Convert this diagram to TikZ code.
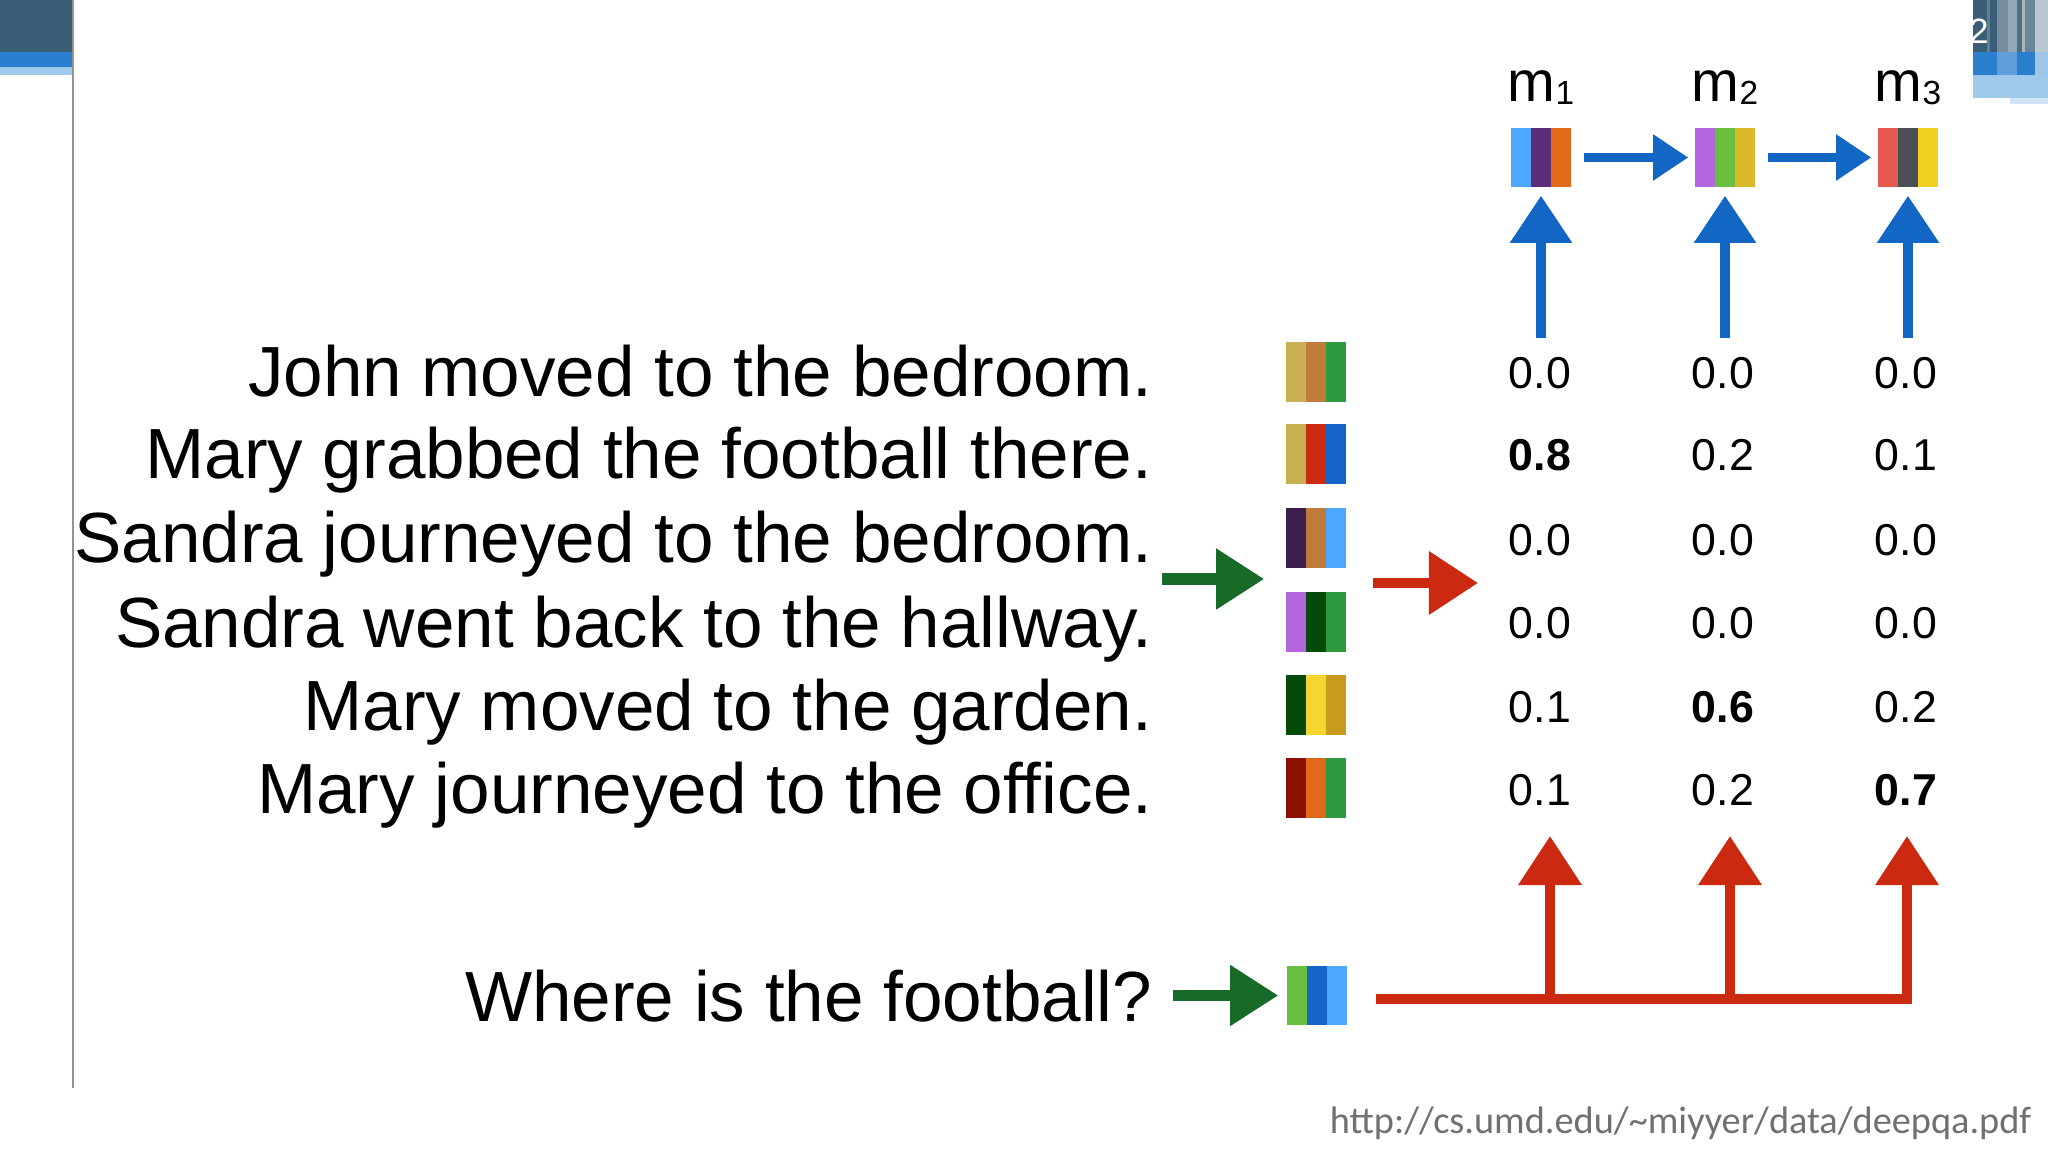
\documentclass[tikz,border=0pt]{standalone}
\usepackage{fontspec}
\setmainfont{Liberation Sans}
\newfontfamily\urlfont{Carlito}
\usetikzlibrary{arrows.meta,calc}
\definecolor{cblue}{RGB}{18,102,196}
\definecolor{cgreen}{RGB}{24,106,40}
\definecolor{cred}{RGB}{204,42,16}
\definecolor{skyb}{RGB}{77,166,255}
\definecolor{purp}{RGB}{92,45,122}
\definecolor{orng}{RGB}{224,106,26}
\definecolor{lav}{RGB}{179,102,224}
\definecolor{lgreen}{RGB}{106,191,64}
\definecolor{must}{RGB}{217,184,42}
\definecolor{coral}{RGB}{232,90,80}
\definecolor{dgray}{RGB}{74,79,85}
\definecolor{yell}{RGB}{240,208,32}
\definecolor{khaki}{RGB}{200,176,80}
\definecolor{brwn}{RGB}{192,122,58}
\definecolor{mgreen}{RGB}{46,154,64}
\definecolor{bred}{RGB}{204,42,16}
\definecolor{dblue}{RGB}{21,101,200}
\definecolor{dpurp}{RGB}{61,31,79}
\definecolor{dgreen}{RGB}{6,74,10}
\definecolor{byell}{RGB}{245,213,48}
\definecolor{dmust}{RGB}{200,154,30}
\definecolor{dred}{RGB}{138,16,0}
\definecolor{teal}{RGB}{59,94,119}
\definecolor{band}{RGB}{43,127,207}
\definecolor{lband}{RGB}{159,201,234}
\definecolor{urlgray}{RGB}{112,112,112}
\tikzset{
  bar/.style n args={3}{rectangle, minimum width=0.6cm, minimum height=0.59cm, inner sep=0pt,
    path picture={
      \fill[#1] (path picture bounding box.south west) rectangle ([xshift=-0.4cm]path picture bounding box.north east);
      \fill[#2] ([xshift=0.2cm]path picture bounding box.south west) rectangle ([xshift=-0.2cm]path picture bounding box.north east);
      \fill[#3] ([xshift=0.4cm]path picture bounding box.south west) rectangle (path picture bounding box.north east);
    }},
  sent/.style={anchor=base east, inner sep=0pt, font=\fontsize{20.2}{24}\selectfont},
  num/.style={anchor=base, inner sep=0pt, font=\fontsize{12.7}{15}\selectfont},
  mlab/.style={anchor=base, inner sep=0pt, font=\fontsize{16.3}{19}\selectfont},
  bluev/.style={draw=cblue, line width=2.8pt, -{Triangle[length=13.4pt,width=17pt]}},
  blueh/.style={draw=cblue, line width=2.8pt, -{Triangle[length=10pt,width=12.5pt]}},
  greenarr/.style={draw=cgreen, line width=3.3pt, -{Triangle[length=13.7pt,width=16.5pt]}},
  redarr/.style={draw=cred, line width=3pt, -{Triangle[length=14pt,width=17.4pt]}},
}
\begin{document}
\begin{tikzpicture}[x=0.01cm,y=-0.01cm]
\useasboundingbox (0,0) rectangle (2048,1152);
% slide decorations
\fill[teal] (0,0) rectangle (72,52);
\fill[band] (0,52) rectangle (72,67);
\fill[lband] (0,67) rectangle (72,75);
\fill[gray!85] (72,0) rectangle (74,1088);
\fill[teal] (1973,0) rectangle (2048,52);
\fill[teal!80!white] (1987,0) rectangle (1990,52);
\fill[teal!70!white] (1997,0) rectangle (2008,52);
\fill[teal!55!white] (2008,0) rectangle (2017,52);
\fill[teal!90!white] (2017,0) rectangle (2022,52);
\fill[teal!45!white] (2022,0) rectangle (2025,52);
\fill[teal!75!white] (2025,0) rectangle (2035,52);
\fill[teal!35!white] (2035,0) rectangle (2048,52);
\fill[band] (1973,52) rectangle (2048,75);
\fill[band!75!white] (1997,52) rectangle (2017,75);
\fill[band!45!white] (2035,52) rectangle (2048,75);
\fill[lband] (1973,75) rectangle (2048,98);
\fill[lband!50!white] (2010,98) rectangle (2048,104);
\node[text=white, inner sep=0pt, font=\fontsize{10}{12}\selectfont] (pg) at (1979,31) {2};
% memory bars
\node[bar={skyb}{purp}{orng}] (m1) at (1541,157.5) {};
\node[bar={lav}{lgreen}{must}] (m2) at (1725,157.5) {};
\node[bar={coral}{dgray}{yell}] (m3) at (1908,157.5) {};
\node[mlab] (l1) at (1541,102) {m\raisebox{-0.85pt}{\fontsize{9.5}{10}\selectfont 1}};
\node[mlab] (l2) at (1725,102) {m\raisebox{-0.85pt}{\fontsize{9.5}{10}\selectfont 2}};
\node[mlab] (l3) at (1908,102) {m\raisebox{-0.85pt}{\fontsize{9.5}{10}\selectfont 3}};
\draw[blueh] ([xshift=0.12cm]m1.east) -- ([xshift=-0.06cm]m2.west);
\draw[blueh] ([xshift=0.12cm]m2.east) -- ([xshift=-0.06cm]m3.west);
\draw[bluev] ($(m1.south)+(0,150)$) -- ([yshift=-0.08cm]m1.south);
\draw[bluev] ($(m2.south)+(0,150)$) -- ([yshift=-0.08cm]m2.south);
\draw[bluev] ($(m3.south)+(0,150)$) -- ([yshift=-0.08cm]m3.south);
% sentences
\node[sent] (s1) at (1153,397) {John moved to the bedroom.};
\node[sent] (s2) at (1153,479) {Mary grabbed the football there.};
\node[sent] (s3) at (1153,563) {Sandra journeyed to the bedroom.};
\node[sent] (s4) at (1153,647) {Sandra went back to the hallway.};
\node[sent] (s5) at (1153,730) {Mary moved to the garden.};
\node[sent] (s6) at (1153,813) {Mary journeyed to the office.};
% sentence bars
\node[bar={khaki}{brwn}{mgreen}] (b1) at (1316,372) {};
\node[bar={khaki}{bred}{dblue}] (b2) at (1316,454) {};
\node[bar={dpurp}{brwn}{skyb}] (b3) at (1316,538) {};
\node[bar={lav}{dgreen}{mgreen}] (b4) at (1316,622) {};
\node[bar={dgreen}{byell}{dmust}] (b5) at (1316,705) {};
\node[bar={dred}{orng}{mgreen}] (b6) at (1316,788) {};
% attention numbers
\node[num] (n11) at (1540,389) {0.0};
\node[num] (n12) at (1723,389) {0.0};
\node[num] (n13) at (1906,389) {0.0};
\node[num] (n21) at (1540,471) {\bfseries 0.8};
\node[num] (n22) at (1723,471) {0.2};
\node[num] (n23) at (1906,471) {0.1};
\node[num] (n31) at (1540,555) {0.0};
\node[num] (n32) at (1723,555) {0.0};
\node[num] (n33) at (1906,555) {0.0};
\node[num] (n41) at (1540,639) {0.0};
\node[num] (n42) at (1723,639) {0.0};
\node[num] (n43) at (1906,639) {0.0};
\node[num] (n51) at (1540,722) {0.1};
\node[num] (n52) at (1723,722) {\bfseries 0.6};
\node[num] (n53) at (1906,722) {0.2};
\node[num] (n61) at (1540,805) {0.1};
\node[num] (n62) at (1723,805) {0.2};
\node[num] (n63) at (1906,805) {\bfseries 0.7};
% middle arrows
\coordinate (gs) at (1162,579);
\draw[greenarr] (gs) -- ([xshift=-0.21cm]gs -| b3.west);
\coordinate (rs) at (1373,583);
\draw[redarr] (rs) -- ++(105,0);
% question
\node[sent] (qt) at (1153,1021) {Where is the football?};
\node[bar={lgreen}{dblue}{skyb}] (q) at (1317,995.5) {};
\draw[greenarr] ([xshift=-1.13cm]q.west) -- ([xshift=-0.08cm]q.west);
\coordinate (r1) at (1550,999);
\coordinate (r2) at (1730,999);
\coordinate (r3) at (1907,999);
\draw[redarr, line join=miter] ([xshift=0.28cm]q.east |- r1) -- (r3) -- ++(0,-163);
\draw[redarr] (r1) -- ++(0,-163);
\draw[redarr] (r2) -- ++(0,-163);
% source
\node[anchor=base east, inner sep=0pt, text=urlgray, font=\urlfont\fontsize{10.9}{13}\selectfont] (url) at (2032,1133) {http://cs.umd.edu/\textasciitilde miyyer/data/deepqa.pdf};
\end{tikzpicture}
\end{document}
